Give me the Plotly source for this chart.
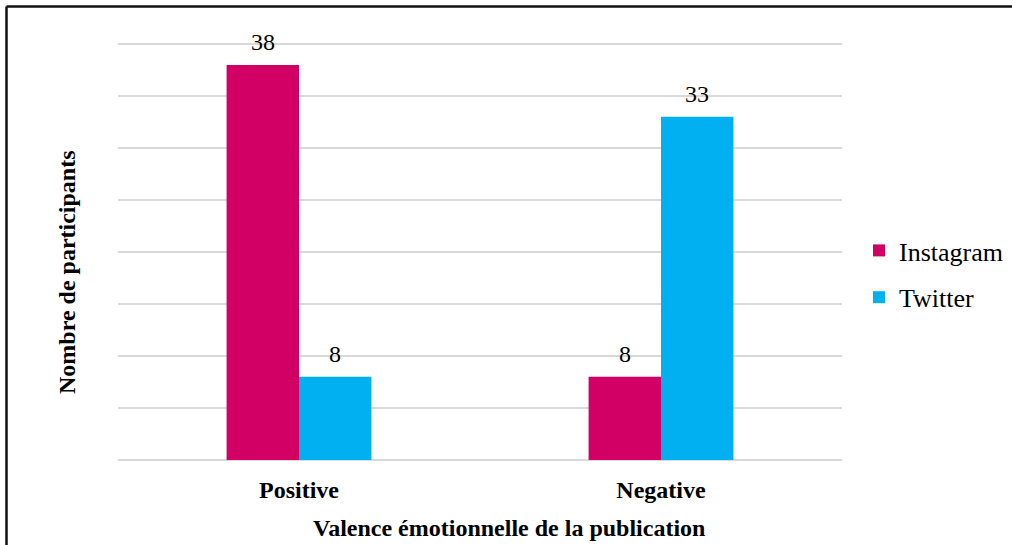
import plotly.graph_objects as go

categories = ["Positive", "Negative"]
instagram = [38, 8]
twitter = [8, 33]
series_names = ["Instagram", "Twitter"]
colors = ["#D20064", "#00B0F0"]

W, H = 1012, 545
L, R, T, B = 118, 170, 42, 85
pw, ph = W - L - R, H - T - B

def px_x(p):
    return (p - L) / pw

def px_y(p):
    return (H - B - p) / ph

serif = "Liberation Serif, Times New Roman, serif"

fig = go.Figure()
for name, vals, col in zip(series_names, [instagram, twitter], colors):
    fig.add_trace(go.Bar(x=categories, y=vals, name=name,
                         marker=dict(color=col, line=dict(width=0)),
                         legendgroup=name, hoverinfo="x+y+name"))

# value labels above the bars (from the data arrays)
half_bar_px = 36
for vals, shift in [(instagram, -half_bar_px), (twitter, half_bar_px)]:
    for cat, v in zip(categories, vals):
        fig.add_annotation(x=cat, y=v, xref="x", yref="y", text=str(v),
                           showarrow=False, xshift=shift, yshift=23,
                           xanchor="center", yanchor="middle",
                           font=dict(family=serif, size=24, color="#000"))

fig.update_layout(
    width=W, height=H,
    margin=dict(l=L, r=R, t=T, b=B, autoexpand=False),
    paper_bgcolor="white", plot_bgcolor="white",
    barmode="group", bargap=0.6, bargroupgap=0,
    font=dict(family=serif, color="#000"),
    showlegend=True,
    legend=dict(x=px_x(859), y=px_y(227), xanchor="left", yanchor="top",
                font=dict(family=serif, size=26, color="#000"),
                tracegroupgap=10, traceorder="grouped",
                bgcolor="rgba(0,0,0,0)", itemwidth=30),
    xaxis=dict(showgrid=False, showline=False, zeroline=False,
               ticks="outside", ticklen=8, tickcolor="rgba(0,0,0,0)",
               tickfont=dict(family=serif, size=24, color="#000", weight="bold")),
    yaxis=dict(range=[0, 40.2], tickvals=[0, 5, 10, 15, 20, 25, 30, 35, 40],
               showticklabels=False,
               showgrid=True, gridcolor="#d9d9d9", gridwidth=1.5,
               zeroline=True, zerolinecolor="#d9d9d9", zerolinewidth=1.5,
               showline=False),
)

fig.add_annotation(text="<b>Nombre de participants</b>", textangle=-90,
                   xref="paper", yref="paper", x=px_x(67), y=px_y(272),
                   xanchor="center", yanchor="middle", showarrow=False,
                   font=dict(family=serif, size=24, color="#000"))
fig.add_annotation(text="<b>Valence émotionnelle de la publication</b>",
                   xref="paper", yref="paper", x=px_x(509), y=px_y(528),
                   xanchor="center", yanchor="middle", showarrow=False,
                   font=dict(family=serif, size=24, color="#000"))

# Frame lines (left and top edges of the outer border)
fig.add_shape(type="line", xref="paper", yref="paper",
              x0=px_x(6.5), x1=px_x(6.5), y0=px_y(6.5), y1=px_y(560),
              line=dict(color="#111", width=2.5))
fig.add_shape(type="line", xref="paper", yref="paper",
              x0=px_x(6.5), x1=px_x(1020), y0=px_y(6.5), y1=px_y(6.5),
              line=dict(color="#111", width=2.5))

fig.write_html("out.html", config={"displayModeBar": False},
               post_script="document.body.style.margin='0';document.body.style.overflow='hidden';")
